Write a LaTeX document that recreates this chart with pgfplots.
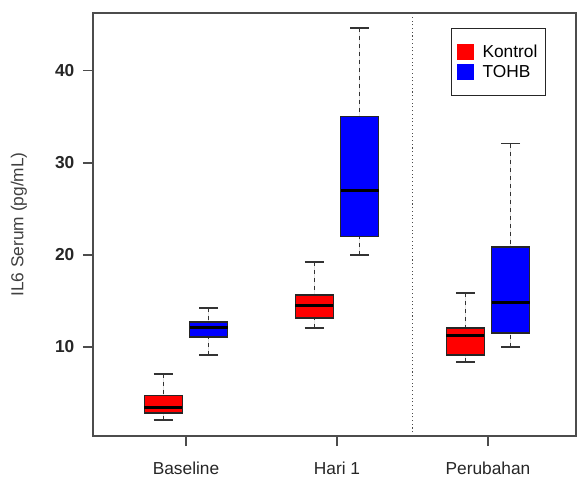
\documentclass[border=0pt]{standalone}
\usepackage{pgfplots}
\pgfplotsset{compat=1.18}
\usepgfplotslibrary{statistics}
\usepackage{fontspec}
\setmainfont{Liberation Sans}
\definecolor{axgray}{gray}{0.3}
\begin{document}
\begin{tikzpicture}
\useasboundingbox (-69.75pt,-31.5pt) rectangle (363.75pt,327pt);
\begin{axis}[
  at={(0,0)}, anchor=south west,
  scale only axis, width=362.25pt, height=317.25pt,
  xmin=0.384, xmax=3.583, ymin=0.33, ymax=46.3,
  xtick={1,2,3}, xticklabels={Baseline, Hari 1, Perubahan},
  ytick={10,20,30,40},
  tick align=outside, xtick pos=left, ytick pos=left,
  major tick length=7.5pt,
  axis line style={axgray, line width=0.8pt},
  tick style={axgray, line width=0.8pt},
  font=\fontsize{13}{15}\selectfont,
  /pgf/number format/assume math mode=true,
  yticklabel style={font=\fontsize{13}{15}\selectfont\bfseries, text=black!85, xshift=-3pt},
  xticklabel style={text=black!85, yshift=-8.5pt},
  ylabel={IL6 Serum (pg/mL)},
  ylabel style={at={(axis description cs:-0.1532,0.5)}, anchor=center, text=black!75},
  boxplot/draw direction=y,
  boxplot/box extend=0.25,
  boxplot/whisker extend=0.125,
  boxplot/every median/.style={line width=2.25pt, black},
  boxplot/every box/.style={draw=black!85, line width=0.8pt},
  boxplot/draw/lower whisker/.code={%
    \draw[dash pattern=on 3pt off 3pt, black!80, line width=0.8pt]
      (boxplot box cs:\pgfplotsboxplotvalue{lower whisker},0.5) -- (boxplot box cs:\pgfplotsboxplotvalue{lower quartile},0.5);
    \draw[black!80, line width=0.8pt]
      (boxplot whisker cs:\pgfplotsboxplotvalue{lower whisker},0) -- (boxplot whisker cs:\pgfplotsboxplotvalue{lower whisker},1);
  },
  boxplot/draw/upper whisker/.code={%
    \draw[dash pattern=on 3pt off 3pt, black!80, line width=0.8pt]
      (boxplot box cs:\pgfplotsboxplotvalue{upper whisker},0.5) -- (boxplot box cs:\pgfplotsboxplotvalue{upper quartile},0.5);
    \draw[black!80, line width=0.8pt]
      (boxplot whisker cs:\pgfplotsboxplotvalue{upper whisker},0) -- (boxplot whisker cs:\pgfplotsboxplotvalue{upper whisker},1);
  },
  legend style={at={(0.741,0.9645)}, anchor=north west, draw=black!85, line width=0.8pt,
    inner xsep=4pt, inner ysep=10pt, row sep=0.5pt, font=\fontsize{13}{15}\selectfont, cells={anchor=west}},
  legend image code/.code={\fill[#1] (0pt,-5.5pt) rectangle (12pt,5.5pt); \path (16.5pt,0pt);},
]
% dotted separator
\addplot[forget plot, dotted, black!70, line width=0.8pt] coordinates {(2.5,0.33) (2.5,46.3)};
% Baseline
\addplot[forget plot, fill=red, boxplot prepared={lower whisker=2.07, lower quartile=2.83, median=3.48, upper quartile=4.78, upper whisker=7.07, draw position=0.85}] coordinates {};
\addplot[forget plot, fill=blue, boxplot prepared={lower whisker=9.13, lower quartile=11.09, median=12.07, upper quartile=12.72, upper whisker=14.24, draw position=1.15}] coordinates {};
% Hari 1
\addplot[forget plot, fill=red, boxplot prepared={lower whisker=12.07, lower quartile=13.15, median=14.49, upper quartile=15.65, upper whisker=19.24, draw position=1.85}] coordinates {};
\addplot[forget plot, fill=blue, boxplot prepared={lower whisker=20.0, lower quartile=21.96, median=27.0, upper quartile=35.1, upper whisker=44.67, draw position=2.15}] coordinates {};
% Perubahan
\addplot[forget plot, fill=red, boxplot prepared={lower whisker=8.37, lower quartile=9.13, median=11.2, upper quartile=12.07, upper whisker=15.87, draw position=2.85}] coordinates {};
\addplot[forget plot, fill=blue, boxplot prepared={lower whisker=10.0, lower quartile=11.52, median=14.89, upper quartile=20.87, upper whisker=32.07, draw position=3.15}] coordinates {};
\addlegendimage{red}
\addlegendentry{Kontrol}
\addlegendimage{blue}
\addlegendentry{TOHB}
\end{axis}
\end{tikzpicture}
\end{document}
